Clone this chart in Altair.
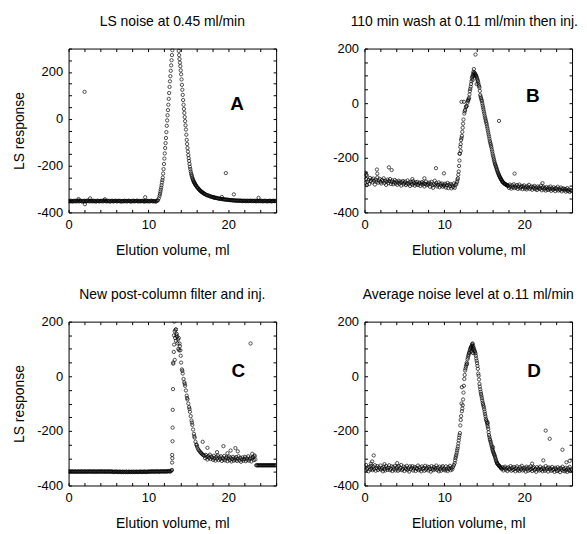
import altair as alt
import pandas as pd

# elution volume grid (ml)
vol = [
    0.0, 0.1, 0.2, 0.3, 0.4, 0.5, 0.6, 0.7, 0.8, 0.9,
    1.0, 1.1, 1.2, 1.3, 1.4, 1.5, 1.6, 1.7, 1.8, 1.9,
    2.0, 2.1, 2.2, 2.3, 2.4, 2.5, 2.6, 2.7, 2.8, 2.9,
    3.0, 3.1, 3.2, 3.3, 3.4, 3.5, 3.6, 3.7, 3.8, 3.9,
    4.0, 4.1, 4.2, 4.3, 4.4, 4.5, 4.6, 4.7, 4.8, 4.9,
    5.0, 5.1, 5.2, 5.3, 5.4, 5.5, 5.6, 5.7, 5.8, 5.9,
    6.0, 6.1, 6.2, 6.3, 6.4, 6.5, 6.6, 6.7, 6.8, 6.9,
    7.0, 7.1, 7.2, 7.3, 7.4, 7.5, 7.6, 7.7, 7.8, 7.9,
    8.0, 8.1, 8.2, 8.3, 8.4, 8.5, 8.6, 8.7, 8.8, 8.9,
    9.0, 9.1, 9.2, 9.3, 9.4, 9.5, 9.6, 9.7, 9.8, 9.9,
    10.0, 10.1, 10.2, 10.3, 10.4, 10.5, 10.6, 10.7, 10.8, 10.9,
    11.0, 11.1, 11.2, 11.3, 11.4, 11.5, 11.6, 11.7, 11.8, 11.9,
    12.0, 12.1, 12.2, 12.3, 12.4, 12.5, 12.6, 12.7, 12.8, 12.9,
    13.0, 13.1, 13.2, 13.3, 13.4, 13.5, 13.6, 13.7, 13.8, 13.9,
    14.0, 14.1, 14.2, 14.3, 14.4, 14.5, 14.6, 14.7, 14.8, 14.9,
    15.0, 15.1, 15.2, 15.3, 15.4, 15.5, 15.6, 15.7, 15.8, 15.9,
    16.0, 16.1, 16.2, 16.3, 16.4, 16.5, 16.6, 16.7, 16.8, 16.9,
    17.0, 17.1, 17.2, 17.3, 17.4, 17.5, 17.6, 17.7, 17.8, 17.9,
    18.0, 18.1, 18.2, 18.3, 18.4, 18.5, 18.6, 18.7, 18.8, 18.9,
    19.0, 19.1, 19.2, 19.3, 19.4, 19.5, 19.6, 19.7, 19.8, 19.9,
    20.0, 20.1, 20.2, 20.3, 20.4, 20.5, 20.6, 20.7, 20.8, 20.9,
    21.0, 21.1, 21.2, 21.3, 21.4, 21.5, 21.6, 21.7, 21.8, 21.9,
    22.0, 22.1, 22.2, 22.3, 22.4, 22.5, 22.6, 22.7, 22.8, 22.9,
    23.0, 23.1, 23.2, 23.3, 23.4, 23.5, 23.6, 23.7, 23.8, 23.9,
    24.0, 24.1, 24.2, 24.3, 24.4, 24.5, 24.6, 24.7, 24.8, 24.9,
    25.0, 25.1, 25.2, 25.3, 25.4, 25.5, 25.6, 25.7, 25.8, 25.9,
    26.0,
]

# Panel A: LS noise at 0.45 ml/min
a_y = [
    -352, -351, -353, -350, -352, -354, -351, -352, -350, -353,
    -351, -352, -349, -353, -351, -350, -352, -354, -351, -352,
    -350, -353, -351, -352, -349, -351, -353, -350, -352, -351,
    -353, -350, -352, -351, -354, -352, -350, -351, -353, -352,
    -351, -352, -350, -353, -351, -349, -352, -351, -353, -350,
    -352, -351, -354, -352, -350, -351, -353, -352, -351, -350,
    -352, -353, -351, -350, -352, -351, -354, -352, -351, -353,
    -350, -352, -351, -353, -352, -350, -351, -352, -354, -351,
    -352, -350, -353, -351, -352, -351, -350, -353, -352, -351,
    -353, -351, -352, -350, -352, -354, -351, -352, -350, -353,
    -351, -352, -353, -351, -350, -352, -353, -351, -352, -354,
    -352, -350, -348, -340, -329, -312, -294, -272, -251, -215,
    -170, -125, -82, -30, 15, 60, 110, 160, 205, 250,
    293, 340, 390, 420, 430, 420, 390, 330, 290, 255,
    225, 190, 145, 102, 60, 25, -10, -46, -90, -125,
    -155, -180, -205, -225, -240, -252, -262, -270, -276, -282,
    -287, -292, -296, -300, -304, -307, -310, -313, -315, -318,
    -320, -322, -324, -326, -327, -328, -329, -331, -332, -333,
    -334, -335, -336, -337, -338, -338, -339, -340, -341, -341,
    -342, -342, -343, -343, -344, -344, -345, -345, -346, -346,
    -346, -347, -347, -348, -347, -348, -349, -348, -349, -350,
    -349, -350, -349, -351, -350, -349, -351, -350, -352, -350,
    -351, -350, -352, -351, -350, -352, -351, -350, -351, -352,
    -350, -351, -352, -350, -351, -353, -351, -350, -352, -351,
    -352, -350, -351, -353, -351, -352, -350, -351, -352, -353,
    -351, -352, -350, -351, -353, -352, -351, -350, -352, -351,
    -352,
]
a_ex = [11.45, 11.55, 11.65, 11.75, 11.85, 11.95, 12.05, 12.15, 12.25, 12.35,
        12.45, 12.55, 12.65, 12.75, 12.85, 12.95, 13.05, 13.75, 13.85, 13.95,
        14.05, 14.15, 14.25, 14.35, 14.45, 14.55, 14.65, 14.75, 14.85, 14.95,
        15.05, 15.15, 15.25, 15.35, 15.45, 15.55, 15.65, 15.75, 15.85, 15.95,
        16.15, 16.35, 16.55, 16.75, 16.95]
a_ey = [-321, -303, -284, -262, -234, -193, -148, -104, -57, -7,
        37, 85, 136, 182, 228, 272, 318, 310, 272, 240,
        207, 168, 124, 80, 42, 7, -28, -68, -108, -140,
        -168, -193, -215, -233, -246, -257, -266, -273, -279, -285,
        -294, -302, -309, -314, -319]
a_ox = [2.0, 2.05, 1.25, 2.7, 4.55, 9.6, 19.7, 20.7, 18.2, 19.2, 23.8]
a_oy = [115, -365, -343, -340, -344, -335, -232, -323, -336, -334, -338]

# Panel B: 110 min wash at 0.11 ml/min then inj.
b_y = [
    -270, -292, -278, -265, -288, -281, -296, -274, -285, -279,
    -290, -276, -284, -298, -280, -287, -272, -291, -283, -277,
    -289, -294, -281, -286, -275, -292, -284, -299, -287, -280,
    -293, -285, -278, -296, -288, -283, -297, -290, -281, -294,
    -286, -299, -291, -284, -295, -288, -302, -290, -285, -297,
    -292, -287, -300, -294, -283, -296, -290, -303, -288, -295,
    -299, -286, -293, -302, -290, -297, -288, -300, -294, -291,
    -303, -295, -289, -298, -292, -305, -296, -287, -300, -294,
    -298, -291, -306, -295, -288, -301, -310, -297, -284, -299,
    -293, -305, -299, -290, -308, -296, -302, -294, -306, -299,
    -303, -295, -309, -300, -292, -311, -298, -304, -296, -312,
    -301, -307, -294, -310, -300, -296, -288, -275, -250, -210,
    -160, -135, -120, -90, -60, -38, -25, -15, -10, 2,
    12, 20, 44, 60, 80, 96, 105, 125, 111, 104,
    99, 90, 81, 68, 57, 30, 18, 8, -8, -22,
    -37, -52, -65, -77, -92, -107, -122, -138, -150, -162,
    -177, -192, -205, -217, -226, -235, -244, -253, -260, -267,
    -273, -278, -283, -288, -291, -294, -296, -298, -300, -301,
    -302, -310, -298, -306, -313, -301, -308, -297, -311, -304,
    -309, -300, -314, -305, -298, -312, -307, -303, -315, -306,
    -301, -313, -308, -316, -304, -310, -299, -314, -309, -305,
    -317, -306, -311, -303, -315, -309, -318, -305, -312, -308,
    -314, -302, -319, -310, -306, -316, -311, -320, -307, -313,
    -318, -309, -315, -305, -321, -312, -317, -308, -314, -322,
    -311, -316, -306, -320, -313, -318, -309, -323, -315, -312,
    -319, -314, -324, -317, -311, -322, -316, -325, -318, -321,
    -320,
]
b_ex = [11.65, 11.75, 11.85, 11.95, 12.05, 12.15, 12.25, 12.35, 12.55, 12.75,
        12.95, 13.05, 13.15, 13.25, 13.35, 13.45, 13.55, 13.65, 13.85, 13.95,
        14.05, 14.15, 14.25, 14.35, 14.45, 14.55, 14.65, 14.75, 14.85, 14.95,
        15.05, 15.15, 15.25, 15.35, 15.45, 15.55, 15.65, 15.75, 15.85, 15.95,
        16.05, 16.15, 16.25, 16.35, 16.45, 16.55, 16.65, 16.75, 16.85, 16.95,
        17.05, 17.15, 17.25, 17.35, 17.55, 17.75, 17.95]
b_ey = [-280, -262, -230, -185, -150, -128, -105, -75, -30, -12,
        8, 15, 32, 52, 70, 90, 100, 115, 108, 102,
        95, 86, 75, 62, 45, 24, 13, 0, -15, -30,
        -45, -58, -71, -85, -100, -115, -130, -144, -156, -170,
        -185, -198, -211, -222, -231, -240, -249, -257, -264, -270,
        -276, -281, -286, -290, -295, -299, -303]
b_ox = [13.9, 16.85, 18.8, 9.95, 8.95, 3.05, 3.4, 1.55, 1.6, 12.15, 12.45,
        0.2, 22.3, 7.5, 6.0, 13.55, 13.75, 14.05, 13.65, 12.05, 0.1, 0.3, 11.9]
b_oy = [178, -65, -258, -257, -238, -235, -245, -243, -258, 5, 5,
        -262, -293, -275, -278, 85, 100, 70, 110, -175, -255, -300, -185]

# Panel C: New post-column filter and inj.
c_y = [
    -349, -348, -350, -349, -348, -349, -350, -349, -348, -350,
    -349, -350, -348, -349, -350, -349, -348, -349, -350, -349,
    -348, -349, -350, -349, -348, -350, -349, -348, -349, -350,
    -349, -348, -349, -350, -349, -348, -350, -349, -349, -348,
    -350, -349, -348, -349, -350, -349, -348, -350, -349, -349,
    -348, -350, -349, -349, -348, -350, -351, -349, -350, -349,
    -350, -349, -351, -350, -349, -350, -351, -350, -349, -351,
    -350, -351, -349, -350, -351, -350, -349, -351, -350, -350,
    -351, -349, -350, -351, -350, -349, -350, -351, -350, -349,
    -350, -349, -351, -350, -349, -350, -349, -351, -350, -349,
    -349, -350, -349, -348, -350, -349, -348, -349, -350, -348,
    -349, -348, -349, -350, -348, -349, -348, -349, -348, -349,
    -348, -349, -348, -349, -348, -347, -348, -349, -348, -345,
    -300, 50, 150, 165, 170, 150, 145, 135, 140, 120,
    95, 50, 25, 10, -10, -22, -35, -52, -71, -85,
    -100, -113, -130, -146, -162, -178, -195, -211, -225, -240,
    -250, -258, -265, -270, -274, -278, -281, -284, -287, -289,
    -291, -300, -288, -296, -305, -292, -299, -287, -303, -294,
    -298, -306, -291, -301, -309, -295, -302, -290, -307, -297,
    -303, -293, -310, -299, -305, -292, -308, -300, -296, -311,
    -301, -294, -307, -298, -312, -303, -295, -309, -300, -306,
    -296, -310, -302, -293, -308, -299, -313, -304, -297, -309,
    -303, -295, -311, -300, -306, -293, -309, -302, -298, -312,
    -301, -296, -307, -294, -305, -326, -326, -326, -326, -326,
    -326, -326, -326, -326, -326, -326, -326, -326, -326, -326,
    -326, -326, -326, -326, -326, -326, -326, -326, -326, -326,
    -326,
]
c_ex = [12.95, 12.97, 12.98, 13.02, 13.03, 13.05, 13.08, 13.12, 13.18, 13.22,
        13.25, 13.35, 13.45, 13.55, 13.65, 13.75, 13.85, 13.95, 13.3, 13.45,
        14.05, 14.25, 14.55, 14.85, 15.15, 15.45, 15.75, 16.05]
c_ey = [-343, -316, -288, -238, -188, -123, -47, 46, 89, 116,
        200, 140, 172, 155, 120, 100, 95, 110, 60, 130,
        75, 20, -28, -80, -120, -170, -220, -252]
c_ox = [22.8, 19.4, 20.9, 20.3, 16.8, 23.0, 18.6, 21.2, 19.9, 17.4, 23.3]
c_oy = [120, -256, -263, -272, -240, -284, -278, -275, -282, -262, -290]

# Panel D: Average noise level at o.11 ml/min
d_y = [
    -330, -345, -325, -340, -335, -348, -332, -342, -328, -338,
    -344, -331, -340, -326, -346, -336, -329, -343, -334, -339,
    -327, -342, -336, -348, -331, -340, -345, -329, -337, -343,
    -335, -326, -344, -339, -330, -347, -333, -341, -328, -345,
    -338, -332, -346, -329, -342, -336, -325, -344, -339, -331,
    -347, -334, -340, -328, -343, -337, -349, -330, -341, -335,
    -329, -345, -338, -332, -347, -336, -340, -327, -344, -333,
    -341, -348, -330, -339, -335, -346, -328, -342, -337, -331,
    -345, -333, -340, -349, -329, -338, -344, -332, -341, -336,
    -327, -343, -335, -348, -331, -340, -346, -334, -329, -342,
    -338, -345, -330, -341, -347, -333, -339, -328, -344, -336,
    -341, -332, -325, -318, -300, -288, -272, -257, -235, -216,
    -180, -146, -128, -106, -60, -10, 21, 35, 50, 62,
    75, 85, 95, 104, 110, 118, 112, 101, 92, 83,
    65, 48, 27, 2, -28, -48, -65, -80, -96, -108,
    -121, -138, -155, -165, -178, -193, -215, -230, -240, -252,
    -265, -275, -283, -290, -300, -310, -318, -322, -326, -329,
    -332, -336, -340, -333, -345, -337, -331, -342, -336, -347,
    -334, -341, -338, -329, -346, -335, -343, -332, -340, -348,
    -336, -330, -344, -339, -347, -333, -341, -328, -345, -337,
    -342, -335, -349, -331, -338, -346, -334, -343, -330, -340,
    -347, -336, -332, -344, -339, -350, -333, -341, -337, -345,
    -331, -343, -338, -348, -335, -340, -346, -329, -342, -336,
    -349, -334, -341, -337, -346, -332, -344, -339, -350, -335,
    -340, -347, -333, -345, -338, -351, -336, -342, -331, -346,
    -339, -348, -335, -343, -350, -337, -344, -332, -347, -341,
    -343,
]
d_ex = [11.35, 11.45, 11.55, 11.65, 11.75, 11.85, 11.95, 12.05, 12.25, 12.35,
        12.45, 12.55, 12.65, 12.75, 12.95, 13.05, 13.15, 13.25, 13.35, 13.45,
        13.55, 13.65, 13.75, 13.85, 13.95, 14.05, 14.15, 14.35, 14.45, 14.55,
        14.65, 14.75, 14.85, 14.95, 15.05, 15.15, 15.25, 15.35, 15.45, 15.55,
        15.65, 15.75, 15.85, 15.95, 16.05, 16.15, 16.25, 16.35, 16.45, 16.55,
        16.65, 16.85, 17.05]
d_ey = [-308, -294, -280, -265, -246, -225, -208, -160, -118, -85,
        -35, 5, 28, 42, 68, 80, 89, 100, 106, 113,
        120, 106, 96, 88, 75, 57, 38, -12, -38, -57,
        -72, -88, -102, -114, -130, -146, -160, -171, -185, -205,
        -222, -235, -246, -258, -270, -279, -287, -295, -305, -314,
        -320, -328, -334]
d_ox = [22.7, 23.2, 24.8, 22.4, 1.15, 0.95, 25.7, 0.8, 13.4, 13.55, 13.6,
        12.15, 12.2, 15.45, 16.1, 12.85, 14.25, 21.0, 25.3, 2.5, 4.1]
d_oy = [-199, -229, -269, -308, -290, -312, -310, -320, 90, 100, 85,
        -100, -40, -170, -260, 45, 10, -320, -315, -322, -318]

for arr in (a_y, b_y, c_y, d_y):
    assert len(arr) == len(vol), len(arr)

FONT = "Liberation Sans"
XTICKS = list(range(0, 27, 2))
XLAB = "datum.value % 10 == 0 ? '' + datum.value : ''"
YLAB = "datum.value % 200 == 0 ? '' + datum.value : ''"


def panel(ys, ex, ey, ox, oy, title, letter, lpos, ydom, ytitle, tdx=0):
    df = pd.DataFrame({"v": vol + ex + ox, "r": ys + ey + oy})
    yticks = list(range(ydom[0], ydom[1] + 1, 50))
    sx = alt.Scale(domain=[0, 26], nice=False, zero=False)
    sy = alt.Scale(domain=ydom, nice=False, zero=False)
    x_axis = alt.Axis(orient="bottom", values=XTICKS, labelExpr=XLAB,
                      title="Elution volume, ml", tickSize=3, offset=-3,
                      labelPadding=6, titlePadding=12, labelFlush=False,
                      labelOverlap=False)
    y_kw = dict(orient="left", values=yticks, labelExpr=YLAB, tickSize=3,
                offset=-3, labelPadding=6, titlePadding=10, labelFlush=False,
                labelOverlap=False)
    y_axis = alt.Axis(title=ytitle, **y_kw) if ytitle else alt.Axis(title=None, **y_kw)
    pts = alt.Chart(df).mark_point(
        shape="circle", filled=False, color="black", size=11,
        strokeWidth=1.0, clip=True
    ).encode(
        x=alt.X("v:Q", scale=sx, axis=x_axis),
        y=alt.Y("r:Q", scale=sy, axis=y_axis),
    )
    ldf = pd.DataFrame({"v": [lpos[0]], "r": [lpos[1]], "t": [letter]})
    lab = alt.Chart(ldf).mark_text(
        font=FONT, fontSize=19, fontWeight="bold", align="center",
        baseline="alphabetic", color="black"
    ).encode(
        x=alt.X("v:Q", scale=sx, axis=alt.Axis(orient="top", values=XTICKS,
                labels=False, tickSize=3, offset=-3, title=None)),
        y=alt.Y("r:Q", scale=sy, axis=alt.Axis(orient="right", values=yticks,
                labels=False, tickSize=3, offset=-3, title=None)),
        text="t:N",
    )
    return alt.layer(pts, lab).resolve_axis(
        x="independent", y="independent"
    ).properties(width=209, height=165,
                 title=alt.TitleParams(title, dx=tdx))


pa = panel(a_y, a_ex, a_ey, a_ox, a_oy, "LS noise at 0.45 ml/min", "A",
           (21.1, 39), [-400, 300], "LS response")
pb = panel(b_y, b_ex, b_ey, b_ox, b_oy, "110 min wash at 0.11 ml/min then inj.",
           "B", (21.1, 5), [-400, 200], None, tdx=-4)
pc = panel(c_y, c_ex, c_ey, c_ox, c_oy, "New post-column filter and inj.", "C",
           (21.25, -4), [-400, 200], "LS response")
pd_ = panel(d_y, d_ex, d_ey, d_ox, d_oy, "Average noise level at o.11 ml/min",
            "D", (21.25, -4), [-400, 200], None)

chart = alt.vconcat(
    alt.hconcat(pa, pb, spacing=55),
    alt.hconcat(pc, pd_, spacing=55),
    spacing=29,
).properties(
    padding={"left": 4, "top": 4, "right": 0, "bottom": 0}
).configure_view(
    stroke="black", strokeWidth=1
).configure_axis(
    grid=False, domain=False, tickColor="black", labelColor="black",
    titleColor="black", labelFont=FONT, titleFont=FONT, labelFontSize=13,
    titleFontSize=14, titleFontWeight="normal", tickWidth=1
).configure_title(
    font=FONT, fontSize=14, fontWeight="normal", color="black",
    anchor="middle", frame="group", offset=14
)

chart.save("out.html", embed_options={"renderer": "svg", "actions": False})
